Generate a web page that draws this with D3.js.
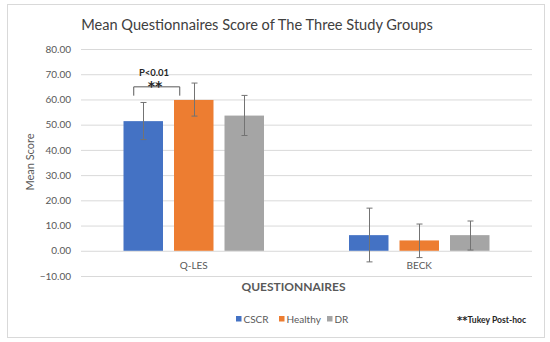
<!DOCTYPE html>
<html><head><meta charset="utf-8">
<script src="https://cdn.jsdelivr.net/npm/d3@7"></script>
<style>body{margin:0;background:#fff}svg{display:block}</style>
</head><body>
<svg id="c" width="550" height="342"></svg>
<script>
const categories = ["Q-LES", "BECK"];
const series = ["CSCR", "Healthy", "DR"];
const colors = ["#4472C4", "#ED7D31", "#A5A5A5"];
const means = { "CSCR": [51.4, 6.2], "Healthy": [59.8, 4.1], "DR": [53.6, 6.2] };
const errUpper = { "CSCR": [58.8, 16.9], "Healthy": [66.5, 10.6], "DR": [61.6, 11.8] };
const errLower = { "CSCR": [44.1, -4.4], "Healthy": [53.4, -2.7], "DR": [45.7, 0.3] };
const yTicks = [-10, 0, 10, 20, 30, 40, 50, 60, 70, 80];

const svg = d3.select("#c");
const font = "Lato, 'Open Sans', sans-serif";

svg.append("rect").attr("x", 7.5).attr("y", 4.5).attr("width", 537).attr("height", 333)
  .attr("fill", "#fff").attr("stroke", "#d9d9d9").attr("stroke-width", 1);

const x = d3.scaleBand().domain(categories).range([81, 532]).padding(0);
const x1 = d3.scaleBand().domain(series).range([-70.25, 70.25]).paddingInner(0.218).paddingOuter(0);
const y = d3.scaleLinear().domain([-10, 80]).range([276, 49]);

// gridlines
const yAxis = d3.axisLeft(y).tickValues(yTicks).tickSize(-(532 - 81)).tickFormat(d3.format(".2f"));
const gy = svg.append("g").attr("transform", "translate(81,0)").call(yAxis);
gy.select(".domain").remove();
gy.selectAll(".tick line").attr("stroke", "#d9d9d9").attr("stroke-width", 1);
gy.selectAll(".tick text").attr("x", -10).attr("fill", "#595959")
  .style("font-family", font).style("font-size", "10px");

// bars
series.forEach((s, si) => {
  const g = svg.append("g");
  g.selectAll("rect").data(categories).join("rect")
    .attr("x", c => x(c) + x.bandwidth() / 2 + x1(s))
    .attr("y", (c, i) => y(Math.max(0, means[s][i])))
    .attr("width", x1.bandwidth())
    .attr("height", (c, i) => Math.abs(y(means[s][i]) - y(0)))
    .attr("fill", colors[si]);
  const eg = svg.append("g").attr("stroke", "#737373").attr("stroke-width", 1);
  categories.forEach((c, i) => {
    const cx = Math.round(x(c) + x.bandwidth() / 2 + x1(s) + x1.bandwidth() / 2) + 0.5;
    const yt = y(errUpper[s][i]), yb = y(errLower[s][i]);
    eg.append("line").attr("x1", cx).attr("x2", cx).attr("y1", yt).attr("y2", yb);
    eg.append("line").attr("x1", cx - 3).attr("x2", cx + 3).attr("y1", yt).attr("y2", yt);
    eg.append("line").attr("x1", cx - 3).attr("x2", cx + 3).attr("y1", yb).attr("y2", yb);
  });
});

// category labels
svg.append("g").selectAll("text").data(categories).join("text")
  .attr("x", c => x(c) + x.bandwidth() / 2).attr("y", 268.5)
  .attr("text-anchor", "middle").attr("fill", "#595959")
  .style("font-family", font).style("font-size", "10px").text(c => c);

// significance bracket
const bx1 = x("Q-LES") + x.bandwidth() / 2 + x1("CSCR") + x1.bandwidth() / 2 - 9.5;
const bx2 = x("Q-LES") + x.bandwidth() / 2 + x1("Healthy") + x1.bandwidth() / 2 - 14;
const byTop = y(65), byBot = y(61.5);
svg.append("path")
  .attr("d", `M${bx1},${byBot}V${byTop}H${bx2}V${byBot}`)
  .attr("fill", "none").attr("stroke", "#595959").attr("stroke-width", 1);
svg.append("text").attr("x", 154).attr("y", 75.5)
  .attr("text-anchor", "middle").attr("fill", "#262626")
  .style("font-family", font).style("font-size", "9.5px").style("font-weight", "bold").text("P<0.01");
svg.append("text").attr("x", 155).attr("y", 90.5)
  .attr("text-anchor", "middle").attr("fill", "#262626")
  .style("font-family", "'DejaVu Sans', sans-serif").style("font-size", "14px").style("font-weight", "bold").text("**");

// title
svg.append("text").attr("x", 257).attr("y", 30).attr("text-anchor", "middle")
  .attr("fill", "#404040").style("font-family", font).style("font-size", "14.6px")
  .text("Mean Questionnaires Score of The Three Study Groups");

// axis titles
svg.append("text").attr("transform", "translate(34,162) rotate(-90)").attr("text-anchor", "middle")
  .attr("fill", "#595959").style("font-family", font).style("font-size", "11px").text("Mean Score");
svg.append("text").attr("x", 293.5).attr("y", 291).attr("text-anchor", "middle")
  .attr("fill", "#595959").style("font-family", font).style("font-size", "12px")
  .style("font-weight", "bold").text("QUESTIONNAIRES");

// legend
const legX = [236, 279, 327];
const lg = svg.append("g");
series.forEach((s, i) => {
  lg.append("rect").attr("x", legX[i]).attr("y", 316).attr("width", 5.5).attr("height", 5.5).attr("fill", colors[i]);
  lg.append("text").attr("x", legX[i] + 7.5).attr("y", 322.5).attr("fill", "#595959")
    .style("font-family", font).style("font-size", "10px").text(s);
});

// note
const note = svg.append("text").attr("x", 457).attr("y", 323).attr("fill", "#262626")
  .style("font-weight", "bold");
note.append("tspan").style("font-family", "'DejaVu Sans', sans-serif").style("font-size", "10px").attr("dy", 1).text("**");
note.append("tspan").style("font-family", font).style("font-size", "8.6px").attr("dy", -1).text("Tukey Post-hoc");
</script>
</body></html>
